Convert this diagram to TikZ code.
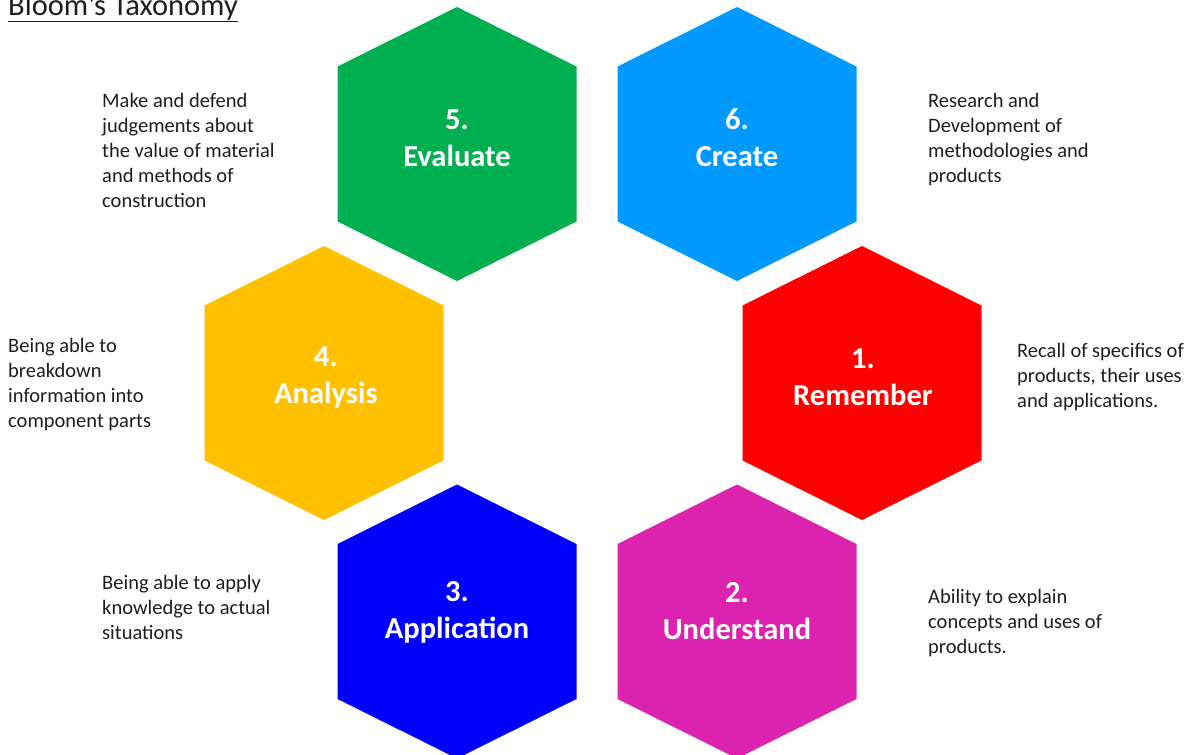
\documentclass[tikz,border=0pt]{standalone}
\usepackage{fontspec}
\setmainfont{Carlito}
\definecolor{cgreen}{RGB}{0,176,80}
\definecolor{cblue}{RGB}{0,153,255}
\definecolor{cred}{RGB}{255,0,0}
\definecolor{cyellow}{RGB}{255,192,0}
\definecolor{cdblue}{RGB}{0,0,255}
\definecolor{cmagenta}{RGB}{220,35,175}
\definecolor{ctext}{RGB}{30,30,30}
\newcommand\hexshape[3]{%
  \fill[#3] (#1,#2) ++(0,-137) -- ++(119.5,59.5) -- ++(0,155) -- ++(-119.5,59.5) -- ++(-119.5,-59.5) -- ++(0,-155) -- cycle;}
\tikzset{
  hexlabel/.style={text=white, align=center, inner sep=0pt,
    font=\bfseries\fontsize{30.5}{37}\selectfont},
  desc/.style={text=ctext, align=left, anchor=north west, inner sep=0pt,
    font=\fontsize{20.5}{25}\selectfont},
}
\begin{document}
\begin{tikzpicture}[x=1pt,y=-1pt]
\useasboundingbox (0,0) rectangle (1197,755);
\clip (0,0) rectangle (1197,755);
% hexagons
\hexshape{457}{144}{cgreen}
\hexshape{737}{144}{cblue}
\hexshape{324}{383}{cyellow}
\hexshape{862}{383}{cred}
\hexshape{457}{621.5}{cdblue}
\hexshape{737}{621.5}{cmagenta}
% labels
\node[hexlabel] (h5) at (457,138) {5.\\Evaluate};
\node[hexlabel] (h6) at (737,138) {6.\\Create};
\node[hexlabel] (h4) at (326,377) {4.\\Analysis};
\node[hexlabel] (h1) at (863,377) {1.\\Remember};
\node[hexlabel] (h3) at (457,612) {3.\\Application};
\node[hexlabel] (h2) at (737,611) {2.\\Understand};
% title
\node[anchor=base west, inner sep=0pt, text=ctext, font=\fontsize{30.5}{36}\selectfont] (title) at (8,15) {\underline{Bloom’s Taxonomy}};
% descriptions
\node[desc] (d5) at (102,93) {Make and defend\\judgements about\\the value of material\\and methods of\\construction};
\node[desc] (d6) at (928,93) {Research and\\Development of\\methodologies and\\products};
\node[desc] (d4) at (8,338) {Being able to\\breakdown\\information into\\component parts};
\node[desc] (d1) at (1017,343) {Recall of specifics of\\products, their uses\\and applications.};
\node[desc] (d3) at (102,575) {Being able to apply\\knowledge to actual\\situations};
\node[desc] (d2) at (928,589) {Ability to explain\\concepts and uses of\\products.};
\end{tikzpicture}
\end{document}
